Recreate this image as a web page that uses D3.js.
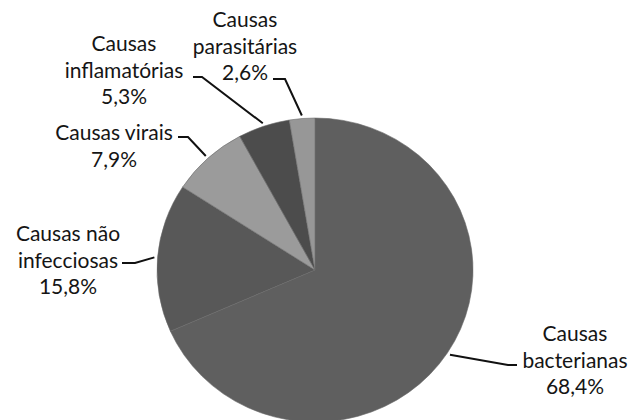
<!DOCTYPE html>
<html>
<head>
<meta charset="utf-8">
<script src="https://cdn.jsdelivr.net/npm/d3@7"></script>
<style>
  html, body { margin: 0; padding: 0; background: #ffffff; }
  svg { display: block; }
  text { font-family: Lato, "Open Sans", sans-serif; font-size: 21px; fill: #151515; }
</style>
</head>
<body>
<svg id="chart" width="642" height="420"></svg>
<script>
// ---- data ----
const categories = ["Causas bacterianas", "Causas não infecciosas", "Causas virais", "Causas inflamatórias", "Causas parasitárias"];
const values = [68.4, 15.8, 7.9, 5.3, 2.6];
const valueLabels = ["68,4%", "15,8%", "7,9%", "5,3%", "2,6%"];
const labelLines = [
  ["Causas", "bacterianas", "68,4%"],
  ["Causas não", "infecciosas", "15,8%"],
  ["Causas virais", "7,9%"],
  ["Causas", "inflamatórias", "5,3%"],
  ["Causas", "parasitárias", "2,6%"]
];

// ---- layout / style (not data) ----
const W = 642, H = 420;
const cx = 315, cy = 270, R = 158, yScale = 152 / 158;
const colors = ["#5f5f5f", "#585858", "#9b9b9b", "#4c4c4c", "#979797"];
// label block: center x, first baseline y ; leader: text-end point and elbow point
const labelLayout = [
  { x: 575, y: 341, lx0: 517, ly0: 365, lx1: 508, ly1: 365 },
  { x: 68,  y: 241, lx0: 122, ly0: 263, lx1: 135, ly1: 263 },
  { x: 114, y: 140, lx0: 178, ly0: 137, lx1: 188, ly1: 137 },
  { x: 124, y: 51,  lx0: 193, ly0: 77,  lx1: 202, ly1: 77 },
  { x: 245, y: 27,  lx0: 273, ly0: 79,  lx1: 285, ly1: 79 }
];
const lineGap = 26.5;

const svg = d3.select("#chart");

const pie = d3.pie().sort(null).value(d => d).startAngle(0).endAngle(2 * Math.PI);
const arcs = pie(values);
const arc = d3.arc().innerRadius(0).outerRadius(R);

const g = svg.append("g").attr("transform", `translate(${cx},${cy}) scale(1,${yScale})`);
g.selectAll("path.slice")
  .data(arcs)
  .enter().append("path")
  .attr("class", "slice")
  .attr("d", arc)
  .attr("fill", (d, i) => colors[i])
  .attr("stroke", "#6a6a6a")
  .attr("stroke-width", 0.6);

// leader lines
const edgeR = R * 1.02;
arcs.forEach((a, i) => {
  const mid = (a.startAngle + a.endAngle) / 2;
  const px = cx + edgeR * Math.sin(mid);
  const py = cy - edgeR * Math.cos(mid) * yScale;
  const L = labelLayout[i];
  svg.append("polyline")
    .attr("points", `${L.lx0},${L.ly0} ${L.lx1},${L.ly1} ${px},${py}`)
    .attr("fill", "none")
    .attr("stroke", "#111")
    .attr("stroke-width", 2);
});

// labels
labelLines.forEach((lines, i) => {
  const L = labelLayout[i];
  const t = svg.append("text").attr("text-anchor", "middle");
  lines.forEach((s, j) => {
    t.append("tspan").attr("x", L.x).attr("y", L.y + j * lineGap).text(s);
  });
});
</script>
</body>
</html>
